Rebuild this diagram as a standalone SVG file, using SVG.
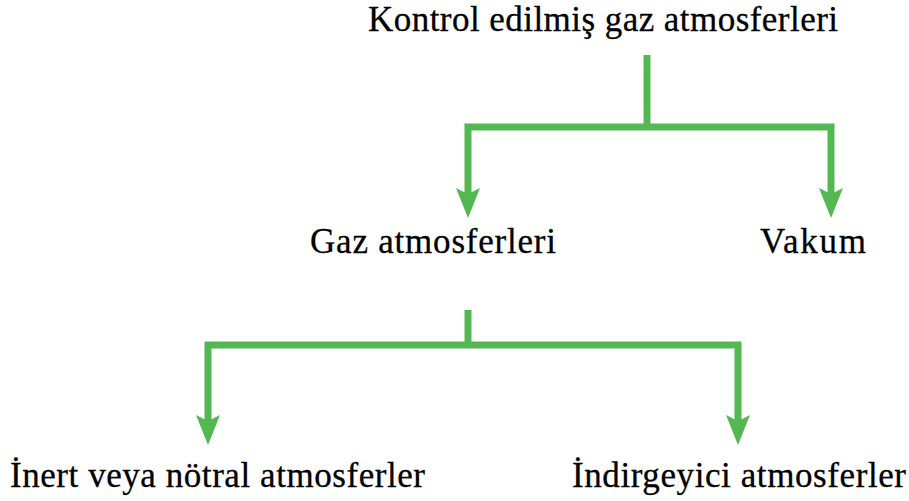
<svg xmlns="http://www.w3.org/2000/svg" xmlns:xlink="http://www.w3.org/1999/xlink" width="909" height="501" viewBox="0 0 909 501">
<style>
.c{fill:none;stroke:#53b852;stroke-width:7;stroke-linejoin:miter;stroke-linecap:butt;}
.h{fill:#53b852;}
</style>
<defs>
<path id="ah" d="M0,0 L-12,-30 L0,-24 L12,-30 Z"/>
</defs>
<rect width="909" height="501" fill="#fff"/>
<g id="connectors">
<path class="c" d="M647,55 V127"/>
<path class="c" d="M468,198 V127 H831 V198"/>
<use href="#ah" xlink:href="#ah" class="h" x="468" y="218"/>
<use href="#ah" xlink:href="#ah" class="h" x="831" y="218"/>
<path class="c" d="M468,310 V345"/>
<path class="c" d="M208,425 V345 H738 V425"/>
<use href="#ah" xlink:href="#ah" class="h" x="208" y="445"/>
<use href="#ah" xlink:href="#ah" class="h" x="738" y="445"/>
</g>
<g font-family="Liberation Serif" font-size="35" fill="#000" stroke="#000" stroke-width="0.3">
<g id="root"><text x="368" y="31" textLength="470">Kontrol edilmiş gaz atmosferleri</text></g>
<g id="gaz"><text x="310" y="253" textLength="246">Gaz atmosferleri</text></g>
<g id="vakum"><text x="760" y="253" textLength="106">Vakum</text></g>
<g id="inert"><text x="10" y="487" textLength="415">İnert veya nötral atmosferler</text></g>
<g id="indirgeyici"><text x="572" y="487" textLength="334">İndirgeyici atmosferler</text></g>
</g>
</svg>
